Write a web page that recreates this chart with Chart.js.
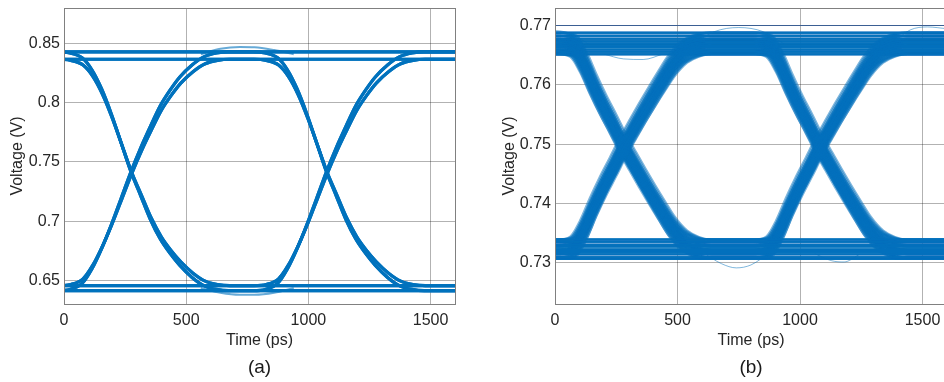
<!DOCTYPE html>
<html>
<head>
<meta charset="utf-8">
<script src="https://cdn.jsdelivr.net/npm/chart.js@4.4.1/dist/chart.umd.min.js"></script>
<style>
  html, body { margin: 0; padding: 0; background: #fff; overflow: hidden; }
  #wrap { position: relative; width: 944px; height: 382px; overflow: hidden; }
  #boxA { position: absolute; left: 0; top: 0; }
  #boxB { position: absolute; left: 480px; top: 0; }
</style>
</head>
<body>
<div id="wrap">
  <div id="boxA"><canvas id="eyeA" width="470" height="382"></canvas></div>
  <div id="boxB"><canvas id="eyeB" width="480" height="382"></canvas></div>
</div>
<script>
// tick labels
const xTicks = [0, 500, 1000, 1500];
const yTicksA = [0.65, 0.7, 0.75, 0.8, 0.85];
const yTicksB = [0.73, 0.74, 0.75, 0.76, 0.77];

// bit values before / between / after the two crossings of the 1600 ps window
const bitPatterns = [[0,0,0],[0,0,1],[0,1,0],[0,1,1],[1,0,0],[1,0,1],[1,1,0],[1,1,1]];

// time of each eye crossing (ps) and edge samples, in ps from the crossing
const crossings = [276, 1076];
const edgeOffsets = [-400, -300, -250, -200, -160, -120, -80, -40, 0, 40, 80, 120, 160, 200, 250, 300, 350, 400, 450, 560];

// (a) clean eye, voltages read along the edges
const fallingA = [0.841, 0.841, 0.840, 0.836, 0.826, 0.810, 0.789, 0.765, 0.741, 0.721, 0.701, 0.685, 0.673, 0.663, 0.653, 0.646, 0.643, 0.642, 0.642, 0.642];
const risingA  = [0.642, 0.642, 0.643, 0.648, 0.660, 0.677, 0.697, 0.719, 0.741, 0.761, 0.779, 0.796, 0.809, 0.820, 0.830, 0.837, 0.840, 0.841, 0.841, 0.841];
const highA  = [0.8430, 0.8367];
const lowA   = [0.6413, 0.6455];
const shiftA = [-2, 2];
// overshoot arcs in the middle of the eye
const strayTimesA = [[560, 640, 720, 780, 860, 940], [560, 640, 720, 780, 860, 940]];
const strayVoltsA = [[0.8410, 0.8455, 0.8470, 0.8468, 0.8445, 0.8410], [0.6435, 0.6395, 0.6378, 0.6378, 0.6395, 0.6435]];

// (b) noisy eye
const fallingB = [0.7670, 0.7670, 0.7670, 0.7665, 0.7638, 0.7600, 0.7565, 0.7533, 0.7500, 0.7470, 0.7441, 0.7413, 0.7386, 0.7360, 0.7337, 0.7326, 0.7322, 0.7322, 0.7322, 0.7322];
const risingB  = [0.7322, 0.7322, 0.7322, 0.7327, 0.7354, 0.7392, 0.7427, 0.7459, 0.7492, 0.7522, 0.7551, 0.7579, 0.7606, 0.7632, 0.7655, 0.7666, 0.7670, 0.7670, 0.7670, 0.7670];
const highB  = [0.7652, 0.7656, 0.7660, 0.7664, 0.7667, 0.7670, 0.7674, 0.7678, 0.7683, 0.7688];
const lowB   = [0.7318, 0.7309, 0.7327, 0.7314, 0.7335, 0.7322, 0.7306, 0.7330, 0.7320, 0.7339];
const shiftB = [-14, -8, -3, 3, 8, 14];
// the few stray traces above / below the bands
const strayTimesB = [
  [560, 650, 750, 850, 940],
  [1380, 1450, 1520, 1600],
  [600, 680, 740, 800, 880],
  [1060, 1130, 1180, 1240],
  [200, 280, 360, 440],
  [0, 40, 90, 140]
];
const strayVoltsB = [
  [0.7668, 0.7690, 0.7697, 0.7690, 0.7668],
  [0.7672, 0.7693, 0.7698, 0.7695],
  [0.7318, 0.7298, 0.7291, 0.7296, 0.7318],
  [0.7315, 0.7303, 0.7301, 0.7313],
  [0.7652, 0.7644, 0.7643, 0.7652],
  [0.7692, 0.7690, 0.7682, 0.7668]
];

Chart.defaults.font.family = '"Liberation Sans", Arial, sans-serif';
Chart.defaults.color = '#262626';

// one trace from its bits, joining flat levels and edges
function buildTrace(bits, falling, rising, hi, lo, shift) {
  const refLo = falling[falling.length - 1], refHi = falling[0];
  const split = (crossings[0] + crossings[1]) / 2 + shift;
  const pts = [];
  for (let seg = 0; seg < 2; seg++) {
    const from = bits[seg], to = bits[seg + 1];
    const edge = from === to ? null : (from ? falling : rising);
    edgeOffsets.forEach((off, i) => {
      const t = crossings[seg] + shift + off;
      if ((seg === 0 && t >= split) || (seg === 1 && t < split)) return;
      let v;
      if (!edge) v = from ? hi : lo;
      else v = lo + (edge[i] - refLo) / (refHi - refLo) * (hi - lo);
      pts.push({ x: t, y: v });
    });
  }
  return pts;
}

function lineSet(points, color, width) {
  return {
    data: points,
    borderColor: color,
    borderWidth: width,
    pointRadius: 0,
    cubicInterpolationMode: 'monotone',
    fill: false
  };
}

function strays(times, volts, color, width) {
  return times.map((ts, k) => lineSet(ts.map((t, i) => ({ x: t, y: volts[k][i] })), color, width));
}

const datasetsA = [];
bitPatterns.forEach(bits => {
  highA.forEach((hi, k) => {
    datasetsA.push(lineSet(buildTrace(bits, fallingA, risingA, hi, lowA[k], shiftA[k]), '#0072BD', 3.2));
  });
});
datasetsA.push(...strays(strayTimesA, strayVoltsA, 'rgba(0,114,189,0.6)', 2));

const datasetsB = [];
bitPatterns.forEach(bits => {
  highB.forEach((hi, k) => {
    shiftB.forEach(dt => {
      datasetsB.push(lineSet(buildTrace(bits, fallingB, risingB, hi, lowB[k], dt), 'rgba(0,114,189,0.3)', 2));
    });
  });
});
datasetsB.push(...strays(strayTimesB, strayVoltsB, 'rgba(0,114,189,0.5)', 1));

// axes box and the (a)/(b) caption
const framePlugin = {
  id: 'frame',
  afterDraw(chart, args, opts) {
    const { ctx, chartArea: a } = chart;
    ctx.save();
    ctx.strokeStyle = '#808080';
    ctx.lineWidth = 1;
    ctx.strokeRect(Math.round(a.left) + 0.5, Math.round(a.top) + 0.5, Math.round(a.right - a.left), Math.round(a.bottom - a.top));
    ctx.fillStyle = '#1a1a1a';
    ctx.font = '19px "Liberation Sans", Arial, sans-serif';
    ctx.textAlign = 'center';
    ctx.textBaseline = 'middle';
    ctx.fillText(opts.caption, (a.left + a.right) / 2, 368);
    ctx.restore();
  }
};

function makeChart(id, datasets, cfg) {
  return new Chart(document.getElementById(id), {
    type: 'line',
    data: { datasets: datasets },
    plugins: [framePlugin],
    options: {
      responsive: false,
      animation: false,
      events: [],
      layout: { padding: { top: 8, right: cfg.padRight, bottom: 26, left: 0 } },
      plugins: {
        legend: { display: false },
        tooltip: { enabled: false },
        frame: { caption: cfg.caption }
      },
      scales: {
        x: {
          type: 'linear',
          min: 0,
          max: 1600,
          afterBuildTicks: s => { s.ticks = xTicks.map(v => ({ value: v })); },
          afterFit: s => { s.height = 52; s.paddingLeft = 0; s.paddingRight = 0; },
          ticks: { padding: 7, font: { size: 16 }, maxRotation: 0, autoSkip: false, callback: v => String(v) },
          grid: { color: 'rgba(0,0,0,0.3)', drawTicks: false },
          border: { display: false },
          title: { display: true, text: 'Time (ps)', font: { size: 16 }, padding: { top: 0, bottom: 6 } }
        },
        y: {
          type: 'linear',
          min: cfg.yMin,
          max: cfg.yMax,
          afterBuildTicks: s => { s.ticks = cfg.yTicks.map(v => ({ value: v })); },
          afterFit: s => { s.width = cfg.yWidth; s.paddingTop = 0; s.paddingBottom = 0; },
          ticks: { padding: 4, font: { size: 16 }, callback: v => String(v) },
          grid: { color: cfg.gridColor, drawTicks: false },
          border: { display: false },
          title: { display: true, text: 'Voltage (V)', font: { size: 16 }, padding: { top: cfg.yTitlePad, bottom: 0 } }
        }
      }
    }
  });
}

makeChart('eyeA', datasetsA, {
  yMin: 0.63, yMax: 0.88, yTicks: yTicksA, yWidth: 64, yTitlePad: 8, padRight: 15,
  caption: '(a)', gridColor: 'rgba(0,0,0,0.3)'
});

makeChart('eyeB', datasetsB, {
  yMin: 0.723, yMax: 0.773, yTicks: yTicksB, yWidth: 75, yTitlePad: 20, padRight: 13,
  caption: '(b)',
  gridColor: c => (c.tick && c.tick.value === 0.77 ? '#3b5f93' : 'rgba(0,0,0,0.3)')
});
</script>
</body>
</html>
